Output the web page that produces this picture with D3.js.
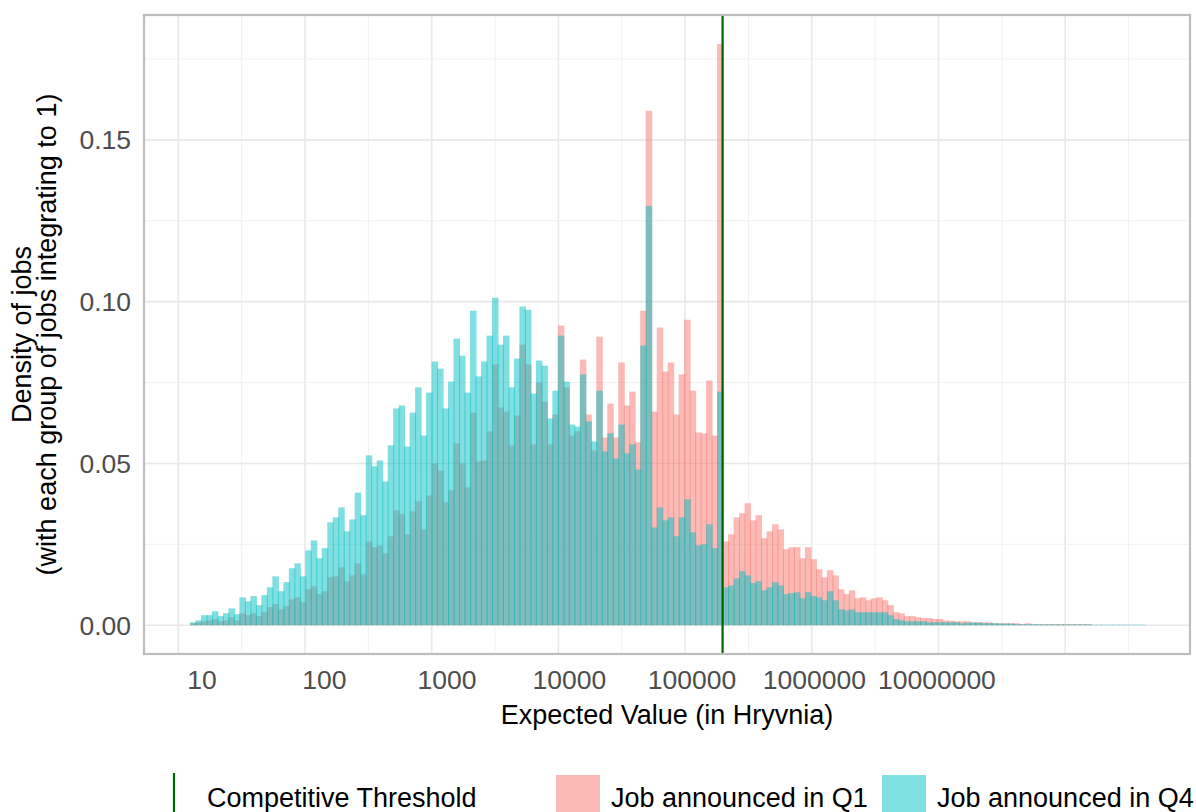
<!DOCTYPE html>
<html lang="en">
<head>
<meta charset="UTF-8">
<title>Density of jobs by expected value</title>
<script src="https://d3js.org/d3.v7.min.js"></script>
<style>
  body { margin: 0; background: #fff; }
  svg { display: block; font-family: "Liberation Sans", Arial, sans-serif; }
</style>
</head>
<body>
<svg id="chart" width="1196" height="812"></svg>
<script>
// histogram bins: uniform in log10(value)
const binLog10Start = 0.9029;
const binLog10Width = 0.04482;

// density per bin, jobs announced in Q1
const q1Density = [
  0.0006,0.0009,0.0012,0.0015,0.0019,0.0012,0.0015,0.0025,0.0015,0.0037,
  0.0031,0.0037,0.0028,0.0040,0.0056,0.0065,0.0049,0.0059,0.0080,0.0086,
  0.0071,0.0111,0.0120,0.0096,0.0105,0.0148,0.0151,0.0179,0.0136,0.0154,
  0.0191,0.0157,0.0259,0.0241,0.0247,0.0222,0.0275,0.0355,0.0343,0.0281,
  0.0352,0.0383,0.0296,0.0401,0.0500,0.0478,0.0380,0.0417,0.0562,0.0500,
  0.0426,0.0657,0.0506,0.0509,0.0599,0.0806,0.0673,0.0660,0.0556,0.0648,
  0.0867,0.0806,0.0559,0.0750,0.0691,0.0559,0.0651,0.0926,0.0735,0.0586,
  0.0599,0.0821,0.0651,0.0540,0.0892,0.0580,0.0685,0.0580,0.0812,0.0679,
  0.0722,0.0565,0.0972,0.1590,0.0660,0.0920,0.0784,0.0812,0.0651,0.0775,
  0.0944,0.0725,0.0596,0.0593,0.0756,0.0586,0.1796,0.0259,0.0281,0.0333,
  0.0346,0.0377,0.0324,0.0340,0.0269,0.0290,0.0312,0.0296,0.0235,0.0241,
  0.0241,0.0207,0.0241,0.0204,0.0173,0.0148,0.0170,0.0154,0.0111,0.0096,
  0.0108,0.0083,0.0086,0.0077,0.0083,0.0086,0.0077,0.0062,0.0040,0.0037,
  0.0028,0.0028,0.0025,0.0022,0.0022,0.0019,0.0019,0.0015,0.0014,0.0012,
  0.0012,0.0012,0.0009,0.0009,0.0009,0.0009,0.0006,0.0006,0.0006,0.0006,
  0.0006,0.0003,0.0006,0.0003,0.0003,0.0003,0.0003,0.0003,0.0003,0.0003,
  0.0003,0.0003,0.0003,0.0003,0,0,0,0,0,0,
  0,0,0,0
];

// density per bin, jobs announced in Q4
const q4Density = [
  0.0009,0.0015,0.0031,0.0031,0.0043,0.0028,0.0037,0.0052,0.0034,0.0086,
  0.0074,0.0090,0.0062,0.0093,0.0117,0.0151,0.0105,0.0133,0.0176,0.0191,
  0.0151,0.0231,0.0262,0.0207,0.0238,0.0318,0.0333,0.0364,0.0290,0.0327,
  0.0410,0.0340,0.0525,0.0491,0.0509,0.0444,0.0556,0.0670,0.0679,0.0552,
  0.0657,0.0735,0.0586,0.0719,0.0815,0.0793,0.0670,0.0753,0.0886,0.0833,
  0.0719,0.0972,0.0769,0.0815,0.0895,0.1012,0.0867,0.0895,0.0735,0.0824,
  0.0985,0.0975,0.0716,0.0818,0.0802,0.0639,0.0725,0.0895,0.0753,0.0620,
  0.0614,0.0775,0.0630,0.0568,0.0725,0.0537,0.0593,0.0515,0.0620,0.0531,
  0.0559,0.0481,0.0864,0.1296,0.0302,0.0364,0.0324,0.0333,0.0275,0.0333,
  0.0389,0.0287,0.0247,0.0250,0.0312,0.0238,0.0722,0.0117,0.0123,0.0145,
  0.0167,0.0154,0.0130,0.0136,0.0108,0.0117,0.0133,0.0123,0.0096,0.0099,
  0.0102,0.0083,0.0102,0.0090,0.0086,0.0077,0.0105,0.0077,0.0049,0.0046,
  0.0049,0.0040,0.0040,0.0040,0.0040,0.0040,0.0040,0.0031,0.0019,0.0015,
  0.0012,0.0012,0.0012,0.0012,0.0009,0.0009,0.0009,0.0009,0.0009,0.0009,
  0.0006,0.0008,0.0008,0.0008,0.0006,0.0006,0.0006,0.0005,0.0005,0.0005,
  0.0003,0.0003,0.0003,0.0003,0.00025,0.00025,0.00025,0.00025,0.00025,0.00025,
  0.00025,0.00025,0.00025,0.00025,0.00015,0.00015,0.00015,0.00015,0.00015,0.00015,
  0.00015,0.00015,0.00015,0.00015
];

const xTickValues = [10, 100, 1000, 10000, 100000, 1000000, 10000000];
const yTickValues = [0, 0.05, 0.10, 0.15];
const yMinorValues = [0.025, 0.075, 0.125, 0.175];
const competitiveThreshold = 178000;

const seriesNames = ["Job announced in Q1", "Job announced in Q4"];
const seriesColors = ["#F8766D", "#00BFC4"];

// panel
const panel = { left: 144, right: 1190, top: 15, bottom: 654 };

const svg = d3.select("#chart");

const x = d3.scaleLog()
  .domain([Math.pow(10, 0.5273), Math.pow(10, 9.066)])
  .range([panel.left, panel.right]);

const y = d3.scaleLinear()
  .domain([-0.0089, 0.1886])
  .range([panel.bottom, panel.top]);

// gridlines (vertical ones sit on their own regular spacing)
const grid = svg.append("g");
const vGrid = d3.range(16).map(k => 178.3 + k * 63.35);
grid.selectAll(".vg").data(vGrid).enter().append("line")
  .attr("x1", d => d).attr("x2", d => d)
  .attr("y1", panel.top).attr("y2", panel.bottom)
  .attr("stroke", (d, i) => i % 2 ? "#F1F1F1" : "#E8E8E8")
  .attr("stroke-width", (d, i) => i % 2 ? 1 : 1.6);
grid.selectAll(".hm").data(yMinorValues).enter().append("line")
  .attr("x1", panel.left).attr("x2", panel.right)
  .attr("y1", d => y(d)).attr("y2", d => y(d))
  .attr("stroke", "#F1F1F1").attr("stroke-width", 1);
grid.selectAll(".hg").data(yTickValues).enter().append("line")
  .attr("x1", panel.left).attr("x2", panel.right)
  .attr("y1", d => y(d)).attr("y2", d => y(d))
  .attr("stroke", "#E8E8E8").attr("stroke-width", 1.6);

// bars
function binsFor(values) {
  return values.map((v, i) => ({
    lo: Math.pow(10, binLog10Start + i * binLog10Width),
    hi: Math.pow(10, binLog10Start + (i + 1) * binLog10Width),
    v: v
  })).filter(d => d.v > 0);
}

[q1Density, q4Density].forEach((series, s) => {
  svg.append("g").selectAll("rect")
    .data(binsFor(series))
    .enter().append("rect")
    .attr("x", d => x(d.lo))
    .attr("width", d => x(d.hi) - x(d.lo) + 1)
    .attr("y", d => y(d.v))
    .attr("height", d => y(0) - y(d.v))
    .attr("fill", seriesColors[s])
    .attr("fill-opacity", 0.5);
});

// threshold line
svg.append("line")
  .attr("x1", x(competitiveThreshold)).attr("x2", x(competitiveThreshold))
  .attr("y1", panel.top).attr("y2", panel.bottom)
  .attr("stroke", "#006400").attr("stroke-width", 2.2);

// panel border
svg.append("rect")
  .attr("x", panel.left).attr("y", panel.top)
  .attr("width", panel.right - panel.left)
  .attr("height", panel.bottom - panel.top)
  .attr("fill", "none")
  .attr("stroke", "#BDBDBD").attr("stroke-width", 2.2);

// axis labels
svg.append("g").selectAll("text").data(xTickValues).enter().append("text")
  .attr("x", d => x(d)).attr("y", 689)
  .attr("text-anchor", "middle")
  .attr("font-size", 26.5).attr("fill", "#4D4D4D")
  .text(d => d3.format("d")(d));

svg.append("g").selectAll("text").data(yTickValues).enter().append("text")
  .attr("x", 131).attr("y", d => y(d)).attr("dy", "0.36em")
  .attr("text-anchor", "end")
  .attr("font-size", 26.5).attr("fill", "#4D4D4D")
  .text(d => d3.format(".2f")(d));

svg.append("text")
  .attr("x", (panel.left + panel.right) / 2).attr("y", 724)
  .attr("text-anchor", "middle").attr("font-size", 27).attr("fill", "#000")
  .text("Expected Value (in Hryvnia)");

const cy = (panel.top + panel.bottom) / 2;
[["Density of jobs", 31], ["(with each group of jobs integrating to 1)", 56]].forEach(([t, bx]) => {
  svg.append("text")
    .attr("transform", `translate(${bx},${cy}) rotate(-90)`)
    .attr("text-anchor", "middle").attr("font-size", 27).attr("fill", "#000")
    .text(t);
});

// legend
const legend = svg.append("g");
legend.append("line")
  .attr("x1", 174).attr("x2", 174).attr("y1", 773).attr("y2", 821)
  .attr("stroke", "#006400").attr("stroke-width", 2.2);
legend.append("text").attr("x", 207).attr("y", 807)
  .attr("font-size", 27).text("Competitive Threshold");

const keyX = [556, 882];
seriesNames.forEach((name, i) => {
  legend.append("rect")
    .attr("x", keyX[i]).attr("y", 775).attr("width", 44).attr("height", 44)
    .attr("fill", seriesColors[i]).attr("fill-opacity", 0.5);
  legend.append("text").attr("x", keyX[i] + 55).attr("y", 807)
    .attr("font-size", 27).text(name);
});
</script>
</body>
</html>
